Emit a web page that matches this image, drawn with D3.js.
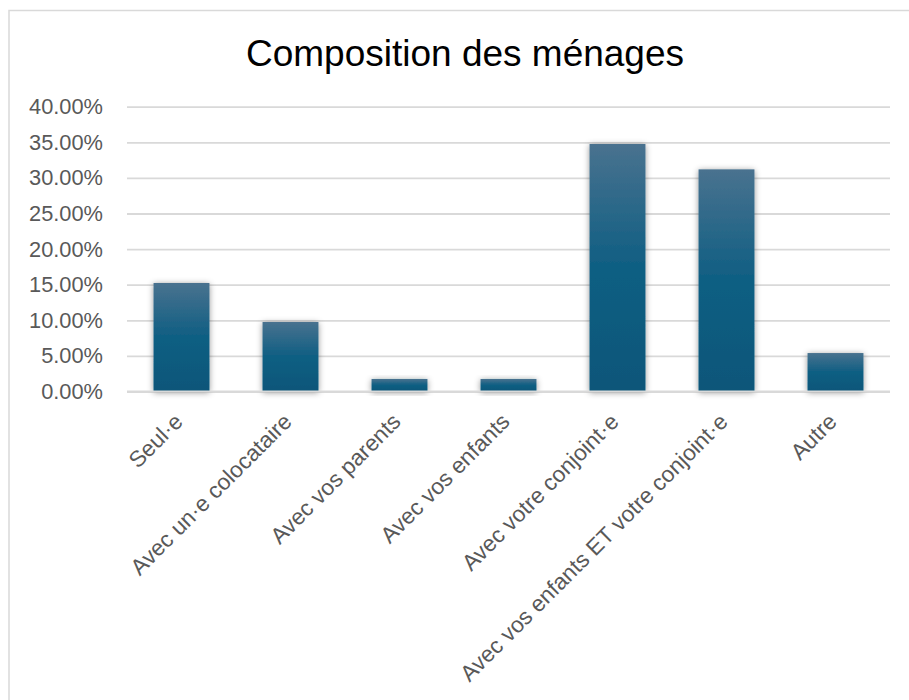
<!DOCTYPE html>
<html>
<head>
<meta charset="utf-8">
<script src="https://cdn.jsdelivr.net/npm/d3@7"></script>
<style>
  html, body { margin: 0; padding: 0; background: #fff; }
  svg { display: block; }
</style>
</head>
<body>
<div id="chart"></div>
<script>
// Household composition, share of respondents (%)
const categories = [
  "Seul·e",
  "Avec un·e colocataire",
  "Avec vos parents",
  "Avec vos enfants",
  "Avec votre conjoint·e",
  "Avec vos enfants ET votre conjoint·e",
  "Autre"
];
const shares = [15.24, 9.76, 1.76, 1.76, 34.76, 31.2, 5.4];
const yTicks = [0, 5, 10, 15, 20, 25, 30, 35, 40];
const title = "Composition des ménages";

const W = 909, H = 700;
const margin = { left: 127, right: 19, top: 106.7, bottom: 308.5 };
const font = "'Liberation Sans', Arial, sans-serif";

const svg = d3.select("#chart").append("svg")
  .attr("width", W).attr("height", H);

const defs = svg.append("defs");
const grad = defs.append("linearGradient")
  .attr("id", "barFill").attr("x1", 0).attr("y1", 0).attr("x2", 0).attr("y2", 1);
grad.append("stop").attr("offset", "0%").attr("stop-color", "#49728f");
grad.append("stop").attr("offset", "48%").attr("stop-color", "#115f83");
grad.append("stop").attr("offset", "100%").attr("stop-color", "#0b5679");

const shadow = defs.append("filter").attr("id", "barShadow")
  .attr("x", "-30%").attr("y", "-30%").attr("width", "160%").attr("height", "160%");
shadow.append("feDropShadow")
  .attr("dx", 0).attr("dy", 1).attr("stdDeviation", 3)
  .attr("flood-color", "#000").attr("flood-opacity", 0.42);

// chart area frame
svg.append("rect")
  .attr("x", 9).attr("y", 10.5).attr("width", W + 20).attr("height", H + 20)
  .attr("fill", "#fff").attr("stroke", "#d9d9d9").attr("stroke-width", 1.5);

const x = d3.scaleBand()
  .domain(categories)
  .range([margin.left, W - margin.right])
  .paddingInner(0.487).paddingOuter(0.2435);

const y = d3.scaleLinear()
  .domain([0, 40])
  .range([H - margin.bottom, margin.top]);

// title
svg.append("text")
  .attr("x", 465).attr("y", 66)
  .attr("text-anchor", "middle")
  .attr("font-family", font).attr("font-size", 37)
  .attr("fill", "#000")
  .text(title);

// value axis with gridlines
const yAxis = d3.axisLeft(y)
  .tickValues(yTicks)
  .tickSize(-(W - margin.left - margin.right))
  .tickPadding(24)
  .tickFormat(d => d3.format(".2f")(d) + "%");

const gy = svg.append("g")
  .attr("transform", `translate(${margin.left},0)`)
  .call(yAxis);
gy.select(".domain").remove();
gy.selectAll(".tick line").attr("stroke", "#d9d9d9").attr("stroke-width", 1.8);
gy.selectAll(".tick text")
  .attr("font-family", font).attr("font-size", 21.8)
  .attr("fill", "#595959");

// bars
svg.append("g").selectAll("rect")
  .data(categories)
  .join("rect")
  .attr("x", d => x(d))
  .attr("width", x.bandwidth())
  .attr("y", (d, i) => y(shares[i]))
  .attr("height", (d, i) => y(0) - y(shares[i]))
  .attr("fill", "url(#barFill)")
  .attr("filter", "url(#barShadow)");

// category axis
const xAxis = d3.axisBottom(x).tickSize(0).tickPadding(0);
const gx = svg.append("g")
  .attr("transform", `translate(0,${y(0)})`)
  .call(xAxis);
gx.select(".domain")
  .attr("stroke", "#d9d9d9").attr("stroke-width", 1.8)
  .attr("d", `M${margin.left},0H${W - margin.right}`);
gx.selectAll(".tick text")
  .attr("font-family", font).attr("font-size", 22.6)
  .attr("fill", "#595959")
  .attr("text-anchor", "end")
  .attr("dy", "0.35em")
  .attr("transform", "translate(-3,26) rotate(-45)");
</script>
</body>
</html>
